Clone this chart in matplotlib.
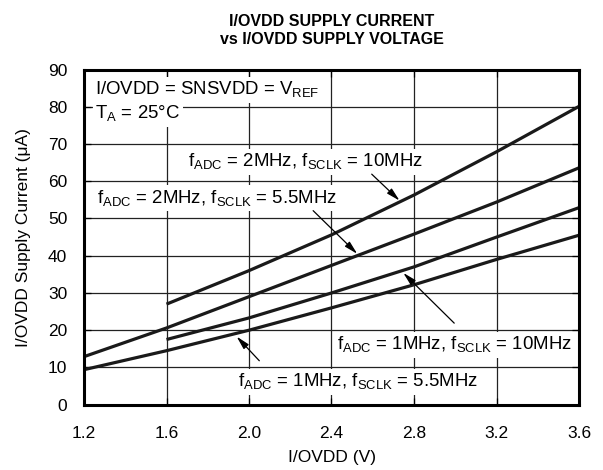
import matplotlib
matplotlib.use("Agg")
import matplotlib.pyplot as plt

plt.rcParams['font.family'] = ['Liberation Sans', 'DejaVu Sans']

v_full = [1.2, 1.6, 2.0, 2.4, 2.8, 3.2, 3.6]
v_part = [1.6, 2.0, 2.4, 2.8, 3.2, 3.6]

i_2m_10m = [27.0, 36.0, 45.6, 56.3, 67.9, 80.1]
i_2m_55m = [12.9, 20.6, 29.0, 37.4, 45.8, 54.4, 63.6]
i_1m_10m = [17.5, 23.3, 30.0, 37.0, 45.0, 52.9]
i_1m_55m = [9.4, 14.5, 20.0, 26.0, 32.2, 39.0, 45.5]

xticks = [1.2, 1.6, 2.0, 2.4, 2.8, 3.2, 3.6]
yticks = [0, 10, 20, 30, 40, 50, 60, 70, 80, 90]

fig = plt.figure(figsize=(6.03, 4.70), dpi=100)
ax = fig.add_axes([84/603, 1 - 404.7/470, (579-84)/603, (404.7-69.5)/470])

lw = 2.3
for xs, ys in [(v_part, i_2m_10m), (v_full, i_2m_55m),
               (v_part, i_1m_10m), (v_full, i_1m_55m)]:
    ax.plot(xs, ys, color='#1a1a1a', lw=lw, zorder=2, solid_capstyle='butt')

ax.set_xlim(1.2, 3.6)
ax.set_ylim(0, 90)
ax.set_xticks(xticks)
ax.set_xticklabels([f"{t:.1f}" for t in xticks])
ax.set_yticks(yticks)
ax.grid(True, color='#222222', lw=0.9, zorder=0)
ax.set_axisbelow(True)
ax.tick_params(direction='in', length=5, width=0.9, top=True, right=True,
               labelsize=12.5)
ax.tick_params(axis='x', pad=15)
ax.tick_params(axis='y', pad=12)
for s in ax.spines.values():
    s.set_linewidth(2.2)
    s.set_zorder(5)

ax.set_xlabel("I/OVDD (V)", fontsize=12.5, labelpad=7)
ax.set_ylabel("I/OVDD Supply Current (μA)", fontsize=12.5, labelpad=12)
fig.text(331.5/603, 1 - 31/470, "I/OVDD SUPPLY CURRENT\nvs I/OVDD SUPPLY VOLTAGE",
         ha='center', va='center', fontweight='bold', fontsize=11.5, linespacing=1.25)

bbox = dict(facecolor='white', edgecolor='none', pad=2.0)
fs = 13.4
ax.text(1.255, 84.5, r"I/OVDD = SNSVDD = V$_{\mathregular{REF}}$", fontsize=fs,
        va='center', ha='left', bbox=bbox, zorder=4)
ax.text(1.255, 78.0, r"T$_{\mathregular{A}}$ = 25°C", fontsize=fs,
        va='center', ha='left', bbox=bbox, zorder=4)
ax.text(1.704, 65.1, r"f$_{\mathregular{ADC}}$ = 2MHz, f$_{\mathregular{SCLK}}$ = 10MHz",
        fontsize=fs, va='center', ha='left', bbox=bbox, zorder=4)
ax.text(1.265, 55.4, r"f$_{\mathregular{ADC}}$ = 2MHz, f$_{\mathregular{SCLK}}$ = 5.5MHz",
        fontsize=fs, va='center', ha='left', bbox=bbox, zorder=4)
ax.text(2.425, 16.0, r"f$_{\mathregular{ADC}}$ = 1MHz, f$_{\mathregular{SCLK}}$ = 10MHz",
        fontsize=fs, va='center', ha='left', bbox=bbox, zorder=4)
ax.text(1.947, 6.1, r"f$_{\mathregular{ADC}}$ = 1MHz, f$_{\mathregular{SCLK}}$ = 5.5MHz",
        fontsize=fs, va='center', ha='left', bbox=bbox, zorder=4)

arrow = dict(arrowstyle='-|>,head_length=0.8,head_width=0.2', color='black', lw=0.9,
             shrinkA=0, shrinkB=0)
ax.annotate("", xy=(2.73, 54.8), xytext=(2.595, 61.9), arrowprops=arrow, zorder=4)
ax.annotate("", xy=(2.525, 40.5), xytext=(2.311, 52.1), arrowprops=arrow, zorder=4)
ax.annotate("", xy=(2.748, 35.4), xytext=(2.995, 21.9), arrowprops=arrow, zorder=4)
ax.annotate("", xy=(1.94, 18.3), xytext=(2.05, 11.8), arrowprops=arrow, zorder=4)

fig.savefig("out.png", dpi=100)
